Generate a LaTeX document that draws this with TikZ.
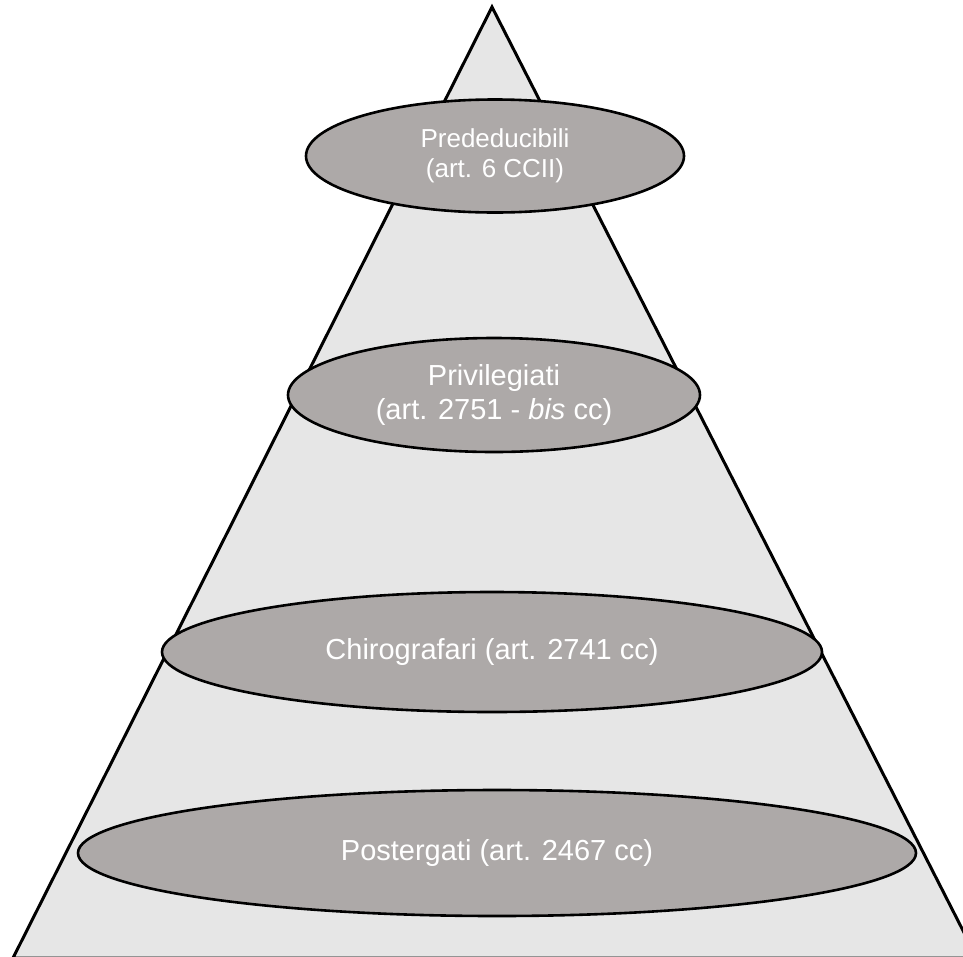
\documentclass[tikz,border=0pt]{standalone}
\usepackage{fontspec}
\setmainfont{Liberation Sans}
\usetikzlibrary{shapes.geometric}
\definecolor{pyramidfill}{RGB}{230,230,230}
\definecolor{tierfill}{RGB}{173,169,168}
\tikzset{
  tier/.style={ellipse, draw=black, line width=2.6pt, fill=tierfill,
    text=white, font=\fontsize{29}{34}\selectfont, align=center, inner sep=0pt},
  pyramid/.style={draw=black, line width=3pt, fill=pyramidfill, line join=miter}
}
\begin{document}
\begin{tikzpicture}[x=1pt,y=-1pt]
  \useasboundingbox (0,0) rectangle (963,956);
  \clip (0,0) rectangle (963,956);
  % outer pyramid
  \coordinate (apex) at (492,7);
  \coordinate (baseL) at (13,958);
  \coordinate (baseR) at (977,958);
  \draw[pyramid] (apex) -- (baseR) -- (baseL) -- cycle;
  % creditor ranks, from top to bottom
  \node[tier, minimum width=378, minimum height=113,
        font=\fontsize{26}{30.5}\selectfont] (pre) at (495,156)
    {Prededucibili\\(art. 6 CCII)};
  \node[tier, minimum width=412, minimum height=114] (pri) at (494,395)
    {Privilegiati\\(art. 2751 - \textit{bis} cc)};
  \node[tier, minimum width=660, minimum height=120] (chi) at (492,652)
    {Chirografari (art. 2741 cc)};
  \node[tier, minimum width=838, minimum height=126] (pos) at (497,853)
    {Postergati (art. 2467 cc)};
\end{tikzpicture}
\end{document}
